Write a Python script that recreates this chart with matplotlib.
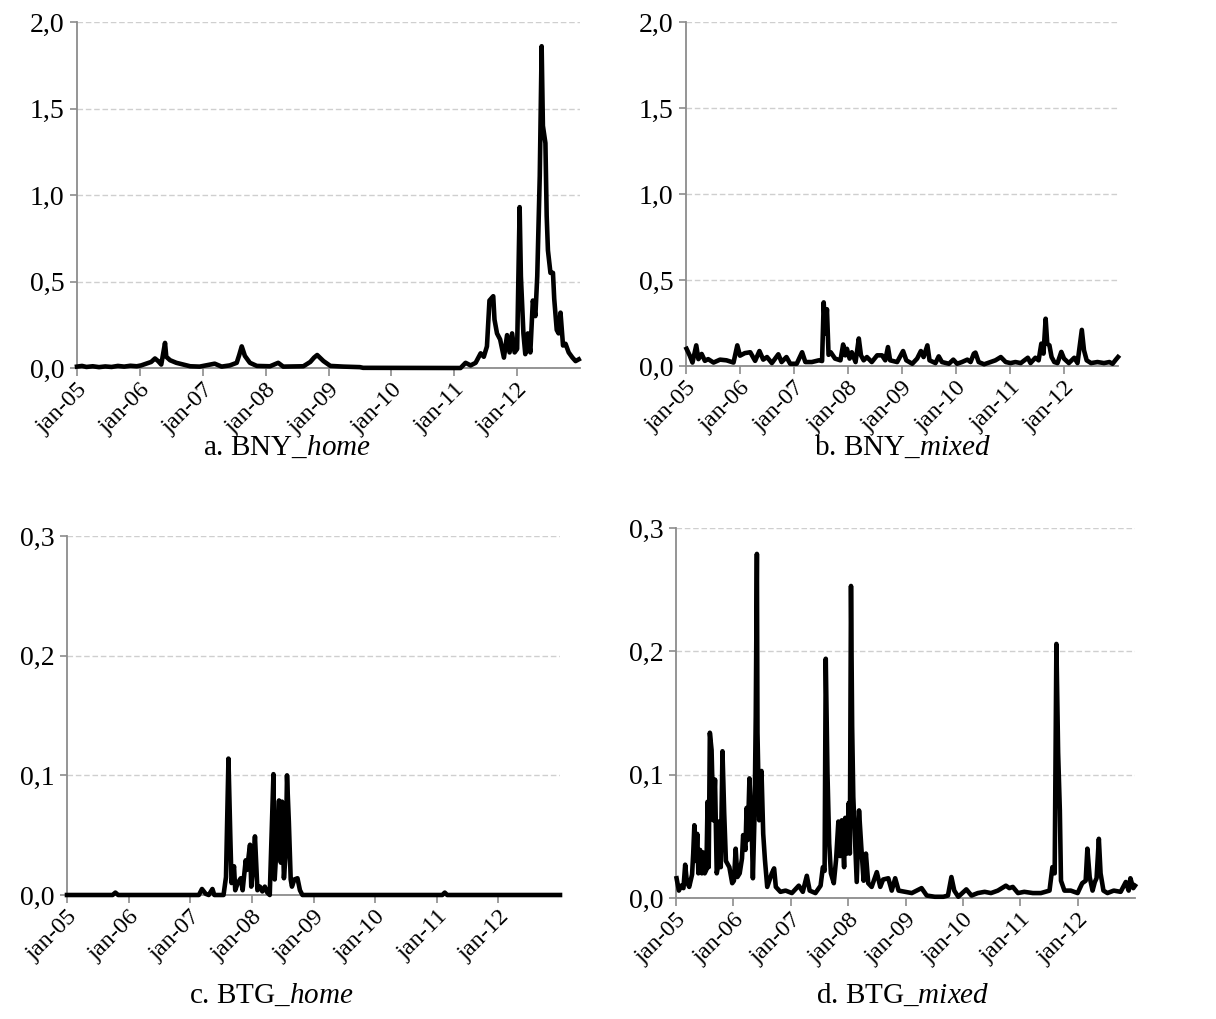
import matplotlib
matplotlib.use("Agg")
import matplotlib.pyplot as plt

plt.rcParams["font.family"] = ["Liberation Serif", "DejaVu Serif"]
plt.rcParams["mathtext.fontset"] = "custom"
plt.rcParams["mathtext.rm"] = "Liberation Serif"
plt.rcParams["mathtext.it"] = "Liberation Serif:italic"

# ---- data: time in decimal years, values of each series ----
year_ticks = [2005, 2006, 2007, 2008, 2009, 2010, 2011, 2012]
year_labels = ["jan-05", "jan-06", "jan-07", "jan-08", "jan-09", "jan-10", "jan-11", "jan-12"]

bny_yticks = [0.0, 0.5, 1.0, 1.5, 2.0]
bny_ylabels = ["0,0", "0,5", "1,0", "1,5", "2,0"]
btg_yticks = [0.0, 0.1, 0.2, 0.3]
btg_ylabels = ["0,0", "0,1", "0,2", "0,3"]

bny_home_t = [2005.00, 2005.08, 2005.15, 2005.25, 2005.35, 2005.45, 2005.55, 2005.65, 2005.75, 2005.85,
              2005.95, 2006.02, 2006.10, 2006.18, 2006.24, 2006.29, 2006.34, 2006.40, 2006.42, 2006.48,
              2006.58, 2006.69, 2006.80, 2006.95, 2007.19, 2007.30, 2007.43, 2007.54, 2007.58, 2007.62,
              2007.67, 2007.75, 2007.86, 2008.07, 2008.20, 2008.28, 2008.60, 2008.71, 2008.77, 2008.82,
              2008.92, 2009.03, 2009.24, 2009.50, 2009.55, 2011.10, 2011.18, 2011.26, 2011.34, 2011.42,
              2011.47, 2011.52, 2011.56, 2011.62, 2011.64, 2011.68, 2011.73, 2011.79, 2011.84, 2011.88,
              2011.92, 2011.96, 2012.00, 2012.04, 2012.06, 2012.10, 2012.13, 2012.17, 2012.21, 2012.25,
              2012.29, 2012.32, 2012.36, 2012.39, 2012.41, 2012.45, 2012.47, 2012.49, 2012.53, 2012.57,
              2012.59, 2012.63, 2012.66, 2012.69, 2012.73, 2012.77, 2012.82, 2012.88, 2012.93, 2012.98]
bny_home_v = [0.008, 0.012, 0.006, 0.010, 0.005, 0.009, 0.006, 0.012, 0.008, 0.013,
              0.010, 0.015, 0.025, 0.035, 0.055, 0.040, 0.020, 0.145, 0.065, 0.045,
              0.030, 0.020, 0.010, 0.008, 0.025, 0.008, 0.015, 0.030, 0.075, 0.125,
              0.070, 0.030, 0.012, 0.010, 0.030, 0.008, 0.010, 0.035, 0.060, 0.075,
              0.040, 0.012, 0.008, 0.005, 0.001, 0.000, 0.030, 0.015, 0.030, 0.085,
              0.065, 0.125, 0.390, 0.415, 0.280, 0.200, 0.165, 0.060, 0.190, 0.090,
              0.200, 0.090, 0.110, 0.930, 0.530, 0.200, 0.080, 0.200, 0.090, 0.390,
              0.300, 0.530, 1.110, 1.860, 1.400, 1.300, 0.880, 0.680, 0.550, 0.550,
              0.400, 0.220, 0.200, 0.320, 0.130, 0.140, 0.090, 0.060, 0.040, 0.050]

bny_mixed_t = [2005.01, 2005.07, 2005.12, 2005.19, 2005.23, 2005.29, 2005.35, 2005.41, 2005.51, 2005.63,
               2005.75, 2005.88, 2005.95, 2006.00, 2006.09, 2006.19, 2006.28, 2006.36, 2006.43, 2006.50,
               2006.59, 2006.71, 2006.77, 2006.86, 2006.93, 2007.05, 2007.15, 2007.21, 2007.33, 2007.46,
               2007.52, 2007.55, 2007.58, 2007.61, 2007.64, 2007.68, 2007.76, 2007.86, 2007.91, 2007.95,
               2007.98, 2008.03, 2008.07, 2008.14, 2008.20, 2008.24, 2008.29, 2008.35, 2008.44, 2008.54,
               2008.63, 2008.69, 2008.74, 2008.78, 2008.91, 2009.02, 2009.08, 2009.19, 2009.28, 2009.35,
               2009.40, 2009.47, 2009.51, 2009.62, 2009.68, 2009.74, 2009.87, 2009.95, 2010.02, 2010.11,
               2010.21, 2010.27, 2010.33, 2010.36, 2010.42, 2010.52, 2010.64, 2010.73, 2010.83, 2010.92,
               2011.01, 2011.10, 2011.20, 2011.33, 2011.38, 2011.47, 2011.53, 2011.58, 2011.62, 2011.66,
               2011.69, 2011.73, 2011.77, 2011.82, 2011.88, 2011.95, 2012.00, 2012.09, 2012.19, 2012.25,
               2012.33, 2012.37, 2012.42, 2012.50, 2012.62, 2012.74, 2012.84, 2012.90, 2012.96, 2013.00]
bny_mixed_v = [0.100, 0.060, 0.020, 0.120, 0.040, 0.070, 0.030, 0.040, 0.020, 0.037,
               0.033, 0.020, 0.120, 0.060, 0.075, 0.080, 0.030, 0.087, 0.037, 0.052,
               0.017, 0.068, 0.023, 0.052, 0.013, 0.013, 0.080, 0.023, 0.023, 0.033,
               0.029, 0.370, 0.190, 0.330, 0.065, 0.080, 0.043, 0.033, 0.125, 0.062,
               0.100, 0.043, 0.080, 0.023, 0.160, 0.062, 0.033, 0.052, 0.023, 0.062,
               0.062, 0.033, 0.110, 0.033, 0.023, 0.087, 0.033, 0.013, 0.043, 0.087,
               0.052, 0.120, 0.033, 0.017, 0.056, 0.023, 0.013, 0.037, 0.013, 0.023,
               0.037, 0.023, 0.072, 0.078, 0.023, 0.010, 0.023, 0.033, 0.052, 0.023,
               0.017, 0.023, 0.017, 0.048, 0.017, 0.048, 0.033, 0.130, 0.072, 0.275,
               0.130, 0.120, 0.052, 0.023, 0.017, 0.082, 0.043, 0.017, 0.048, 0.017,
               0.210, 0.092, 0.033, 0.017, 0.023, 0.017, 0.023, 0.013, 0.037, 0.052]

btg_home_t = [2005.00, 2005.74, 2005.785, 2005.83, 2007.14, 2007.19, 2007.25, 2007.30, 2007.36, 2007.39,
              2007.54, 2007.58, 2007.62, 2007.65, 2007.67, 2007.71, 2007.73, 2007.77, 2007.82, 2007.85,
              2007.90, 2007.92, 2007.97, 2007.99, 2008.02, 2008.05, 2008.09, 2008.13, 2008.17, 2008.21,
              2008.25, 2008.29, 2008.35, 2008.37, 2008.41, 2008.44, 2008.47, 2008.49, 2008.52, 2008.55,
              2008.57, 2008.60, 2008.63, 2008.65, 2008.69, 2008.74, 2008.78, 2008.82, 2011.09, 2011.13,
              2011.17, 2013.00]
btg_home_v = [0.000, 0.000, 0.002, 0.000, 0.000, 0.005, 0.001, 0.000, 0.005, 0.000,
              0.000, 0.015, 0.114, 0.049, 0.010, 0.024, 0.004, 0.010, 0.014, 0.004,
              0.029, 0.021, 0.042, 0.007, 0.024, 0.049, 0.004, 0.007, 0.003, 0.007,
              0.002, 0.000, 0.101, 0.013, 0.049, 0.079, 0.027, 0.078, 0.014, 0.035,
              0.100, 0.061, 0.013, 0.007, 0.013, 0.014, 0.004, 0.000, 0.000, 0.002,
              0.000, 0.000]

btg_mixed_t = [2005.01, 2005.05, 2005.09, 2005.13, 2005.16, 2005.19, 2005.23, 2005.28, 2005.30, 2005.32,
               2005.35, 2005.37, 2005.39, 2005.42, 2005.45, 2005.47, 2005.50, 2005.53, 2005.55, 2005.57,
               2005.59, 2005.62, 2005.65, 2005.68, 2005.71, 2005.73, 2005.75, 2005.78, 2005.81, 2005.84,
               2005.87, 2005.93, 2005.98, 2006.01, 2006.04, 2006.07, 2006.11, 2006.15, 2006.17, 2006.21,
               2006.23, 2006.25, 2006.28, 2006.32, 2006.34, 2006.37, 2006.39, 2006.41, 2006.42, 2006.45,
               2006.49, 2006.52, 2006.55, 2006.59, 2006.67, 2006.71, 2006.74, 2006.82, 2006.91, 2007.02,
               2007.14, 2007.21, 2007.28, 2007.33, 2007.43, 2007.52, 2007.56, 2007.59, 2007.61, 2007.64,
               2007.67, 2007.70, 2007.75, 2007.79, 2007.83, 2007.86, 2007.89, 2007.93, 2007.95, 2007.98,
               2008.01, 2008.03, 2008.05, 2008.07, 2008.09, 2008.12, 2008.15, 2008.19, 2008.23, 2008.27,
               2008.31, 2008.35, 2008.41, 2008.50, 2008.56, 2008.61, 2008.70, 2008.76, 2008.82, 2008.88,
               2008.99, 2009.11, 2009.28, 2009.37, 2009.51, 2009.66, 2009.74, 2009.80, 2009.85, 2009.92,
               2010.06, 2010.15, 2010.26, 2010.38, 2010.49, 2010.61, 2010.75, 2010.81, 2010.87, 2010.96,
               2011.07, 2011.22, 2011.36, 2011.51, 2011.56, 2011.60, 2011.63, 2011.66, 2011.69, 2011.71,
               2011.77, 2011.88, 2012.00, 2012.08, 2012.14, 2012.17, 2012.21, 2012.26, 2012.30, 2012.33,
               2012.37, 2012.40, 2012.45, 2012.52, 2012.63, 2012.75, 2012.84, 2012.89, 2012.92, 2012.97,
               2013.00]
btg_mixed_v = [0.016, 0.006, 0.010, 0.008, 0.027, 0.013, 0.009, 0.019, 0.036, 0.059,
               0.030, 0.052, 0.020, 0.039, 0.020, 0.037, 0.020, 0.023, 0.078, 0.025,
               0.134, 0.120, 0.063, 0.096, 0.020, 0.025, 0.062, 0.025, 0.119, 0.069,
               0.030, 0.025, 0.012, 0.014, 0.040, 0.017, 0.020, 0.032, 0.051, 0.039,
               0.073, 0.047, 0.097, 0.055, 0.016, 0.069, 0.147, 0.279, 0.134, 0.063,
               0.103, 0.052, 0.031, 0.009, 0.020, 0.024, 0.009, 0.005, 0.006, 0.004,
               0.010, 0.005, 0.018, 0.006, 0.004, 0.010, 0.025, 0.022, 0.194, 0.101,
               0.044, 0.020, 0.012, 0.031, 0.062, 0.034, 0.063, 0.025, 0.065, 0.036,
               0.077, 0.036, 0.253, 0.139, 0.082, 0.047, 0.013, 0.071, 0.041, 0.014,
               0.036, 0.012, 0.009, 0.021, 0.009, 0.015, 0.016, 0.006, 0.016, 0.006,
               0.005, 0.004, 0.008, 0.002, 0.001, 0.001, 0.002, 0.017, 0.006, 0.001,
               0.007, 0.002, 0.004, 0.005, 0.004, 0.006, 0.010, 0.008, 0.009, 0.004,
               0.005, 0.004, 0.004, 0.006, 0.025, 0.020, 0.206, 0.118, 0.071, 0.014,
               0.006, 0.006, 0.004, 0.012, 0.014, 0.040, 0.017, 0.006, 0.013, 0.016,
               0.048, 0.020, 0.006, 0.004, 0.006, 0.005, 0.013, 0.006, 0.016, 0.008,
               0.010]

panels = [
    ("a. BNY_", "home", bny_home_t, bny_home_v, bny_yticks, bny_ylabels),
    ("b. BNY_", "mixed", bny_mixed_t, bny_mixed_v, bny_yticks, bny_ylabels),
    ("c. BTG_", "home", btg_home_t, btg_home_v, btg_yticks, btg_ylabels),
    ("d. BTG_", "mixed", btg_mixed_t, btg_mixed_v, btg_yticks, btg_ylabels),
]

W, H = 1216, 1019
fig = plt.figure(figsize=(W / 100, H / 100), dpi=100)

# axes boxes in pixels: left, top, right, bottom
boxes = [(77, 22, 580, 368), (686, 22, 1118, 366), (67, 536, 560, 895), (676, 528, 1135, 898)]
caption_pos = [(287, 448), (902, 448), (271, 996), (903, 996)]

axis_grey = "#8c8c8c"
for (prefix, ital, t, v, yt, yl), (l, tp, r, b), (cx, cy) in zip(panels, boxes, caption_pos):
    ax = fig.add_axes([l / W, 1 - b / H, (r - l) / W, (b - tp) / H])
    ax.plot(t, v, color="black", lw=3.3, solid_joinstyle="round", clip_on=False, zorder=3)
    ax.set_xlim(2005.0, 2013.0)
    ax.set_ylim(yt[0], yt[-1])
    ax.set_yticks(yt)
    ax.set_yticklabels(yl, fontsize=20)
    ax.set_xticks(year_ticks)
    ax.set_xticklabels(year_labels, fontsize=17.5, rotation=45, ha="right",
                       rotation_mode="anchor")
    for s in ("top", "right"):
        ax.spines[s].set_visible(False)
    for s in ("left", "bottom"):
        ax.spines[s].set_color(axis_grey)
        ax.spines[s].set_linewidth(1.3)
    ax.tick_params(axis="y", direction="out", length=5, width=1.2, color=axis_grey, pad=4)
    ax.tick_params(axis="x", direction="out", length=6, width=1.2, color=axis_grey, pad=2)
    ax.yaxis.grid(True, color="#cfcfcf", linestyle=(0, (4, 2)), lw=1.0)
    ax.set_axisbelow(True)
    fig.text(cx / W, 1 - cy / H, prefix + r"$\mathit{" + ital + "}$",
             fontsize=21, ha="center", va="center")

fig.savefig("out.png", dpi=100)
